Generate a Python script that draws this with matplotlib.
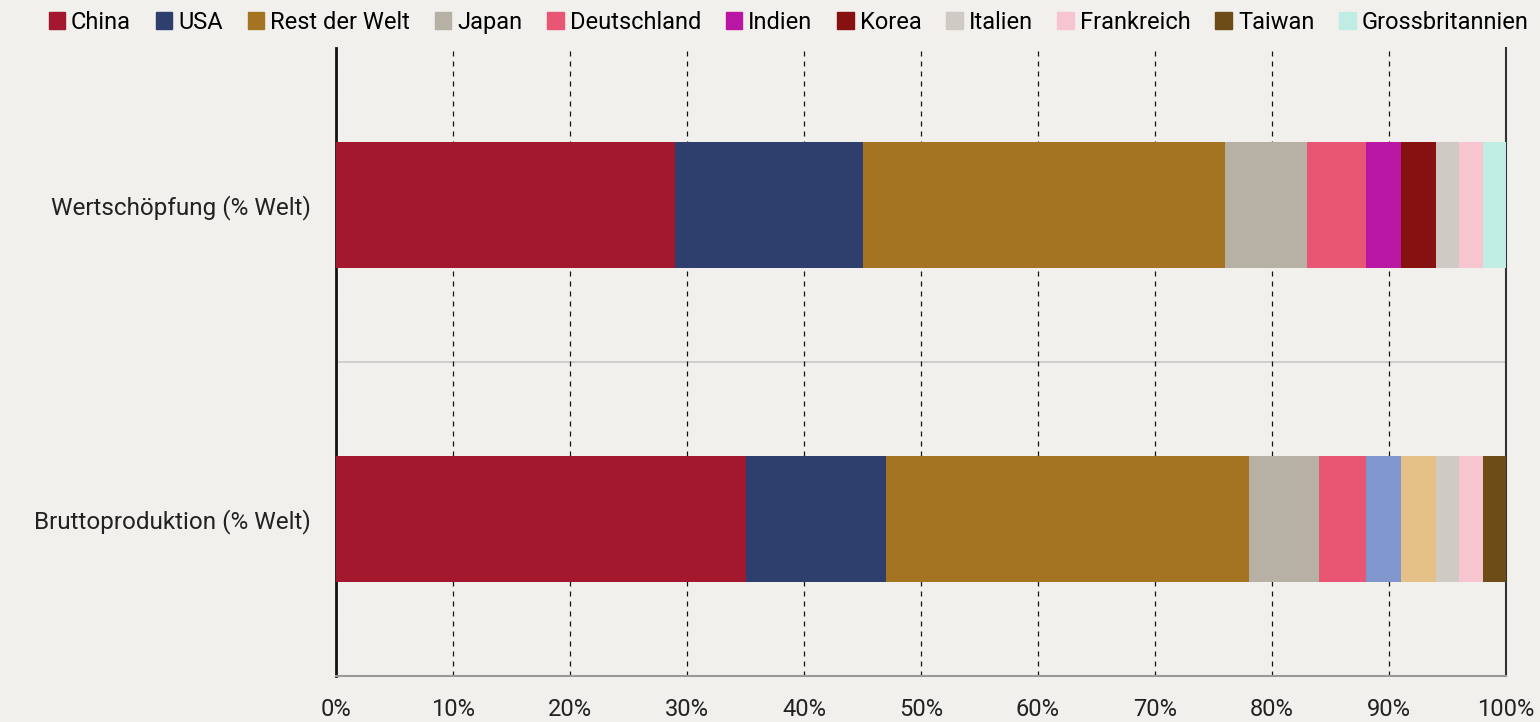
import numpy as np
import matplotlib
matplotlib.use('Agg')
import matplotlib.pyplot as plt
import matplotlib.patches as mpatches

plt.rcParams['font.family'] = ['Roboto', 'DejaVu Sans']

# daten
kategorien = ['Bruttoproduktion (% Welt)', 'Wertschöpfung (% Welt)']
laender = ['China', 'USA', 'Rest der Welt', 'Japan', 'Deutschland', 'Indien',
           'Korea', 'Italien', 'Frankreich', 'Taiwan', 'Grossbritannien']
brutto = [35, 12, 31, 6, 4, 3, 3, 2, 2, 2, 0]
wert = [29, 16, 31, 7, 5, 3, 3, 2, 2, 0, 2]
tick_labels = ['0%', '10%', '20%', '30%', '40%', '50%', '60%', '70%', '80%', '90%', '100%']

farben = ['#a3182f', '#2e3f6e', '#a57422', '#b7b0a5', '#e85673', '#b917a3',
          '#871111', '#cfcac4', '#f6c5cf', '#6d4c17', '#c0ede3']
# untere zeile hat bei Indien/Korea andere farben
farben_brutto = list(farben)
farben_brutto[5] = '#8097cd'
farben_brutto[6] = '#e6c187'

bg = '#f1f0ec'
fig = plt.figure(figsize=(15.4, 7.22), dpi=100, facecolor=bg)
ax = fig.add_axes([0.2182, 0.0637, 0.7597, 0.8698], facecolor=bg)

werte = np.array([brutto, wert])
links = np.zeros(2)
for i, land in enumerate(laender):
    ax.barh([0, 1], werte[:, i], left=links, height=0.4,
            color=[farben_brutto[i], farben[i]], linewidth=0, zorder=3)
    links += werte[:, i]

ax.set_xlim(0, 100)
ax.set_ylim(-0.5, 1.5)
ax.set_xticks(np.arange(0, 101, 10))
ax.set_xticklabels(tick_labels, fontsize=17, color='#222222')
ax.set_yticks([0, 1])
ax.set_yticklabels(kategorien, fontsize=17.5, color='#222222')
ax.tick_params(axis='both', length=0)
ax.tick_params(axis='x', pad=16)
ax.tick_params(axis='y', pad=18)

ax.grid(axis='x', color='#111111', linestyle=(0, (4, 4)), linewidth=0.9, zorder=1)
ax.axhline(0.5, color='#c8c8c8', linewidth=1.2, zorder=1)

ax.spines['top'].set_visible(False)
ax.spines['left'].set_color('#111111')
ax.spines['left'].set_linewidth(2)
ax.spines['right'].set_color('#333333')
ax.spines['right'].set_linewidth(1.5)
ax.spines['bottom'].set_color('#999999')
ax.spines['bottom'].set_linewidth(1.5)

handles = [mpatches.Patch(color=farben[i], label=laender[i]) for i in range(len(laender))]
fig.legend(handles=handles, loc='upper center', bbox_to_anchor=(0.512, 1.0), ncol=11,
           frameon=False, fontsize=17, handlelength=0.7, handleheight=0.7,
           handletextpad=0.25, columnspacing=1.05, borderaxespad=0.05)

fig.savefig('out.png', dpi=100, facecolor=bg)
